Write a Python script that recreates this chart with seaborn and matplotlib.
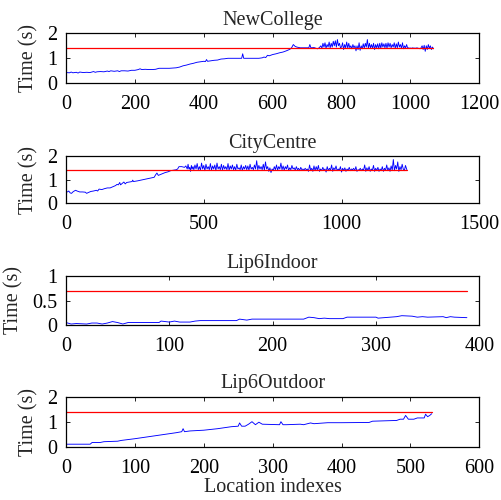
import matplotlib
matplotlib.use("Agg")
import matplotlib.pyplot as plt
import seaborn as sns
import pandas as pd

# ---------------- data ----------------
nc_idx = [0,10,15,20,30,35,40,50,60,70,80,85,90,100,110,120,125,130,140,150,155,160,170,180,190,200,210,215,220,230,240,250,260,270,280,300,310,320,330,340,350,360,370,380,390,400,405,408,411,420,430,440,450,460,470,480,490,500,510,513,516,530,540,550,560,570,575,580,585,590,600,610,620,630,640,650,655,660,665,670,680,690,700,705,708,711,720,730,735] + list(range(740, 1068, 3))
nc_val = [0.43,0.42,0.45,0.42,0.44,0.41,0.45,0.43,0.44,0.43,0.47,0.44,0.46,0.47,0.46,0.49,0.47,0.50,0.48,0.50,0.47,0.50,0.50,0.49,0.52,0.52,0.55,0.58,0.55,0.56,0.55,0.55,0.56,0.60,0.60,0.60,0.61,0.62,0.65,0.70,0.73,0.77,0.80,0.84,0.86,0.88,0.87,0.95,0.88,0.90,0.92,0.93,0.97,0.98,1.00,1.00,1.00,1.00,1.00,1.18,1.00,1.00,1.00,1.00,1.00,1.02,1.05,1.03,1.12,1.10,1.15,1.18,1.22,1.25,1.30,1.36,1.42,1.55,1.48,1.45,1.42,1.42,1.42,1.42,1.55,1.42,1.43,1.38,1.42,
          1.50,1.40,1.60,1.45,1.62,1.40,1.55,1.45,1.65,1.42,1.60,1.45,1.68,1.50,1.70,1.45,1.75,1.50,1.60,1.42,1.45,1.62,1.35,1.55,1.42,1.65,1.40,1.60,1.42,1.50,1.38,1.55,1.42,1.50,1.30,1.50,1.35,1.62,1.32,1.50,1.38,1.58,1.40,1.60,1.45,1.75,1.40,1.60,1.42,1.55,1.40,1.60,1.35,1.55,1.42,1.58,1.38,1.60,1.40,1.62,1.45,1.58,1.42,1.60,1.40,1.62,1.45,1.60,1.42,1.55,1.45,1.62,1.40,1.58,1.42,1.65,1.45,1.55,1.40,1.62,1.38,1.50,1.42,1.55,1.40,1.42,1.40,1.41,1.40,1.42,1.40,1.41,1.40,1.42,1.40,1.40,1.38,1.42,1.50,1.35,1.52,1.28,1.50,1.35,1.55,1.40,1.50,1.35,1.45,1.38]
nc_thr = 1.4

cc_idx = [0,5,10,15,20,25,30,35,40,50,60,70,75,80,90,100,110,115,120,130,140,150,160,170,180,185,190,195,198,205,210,215,220,230,240,242,245,260,280,300,320,325,330,335,350,360,370,380,390,400,405,410,420,430,435,440,443,446,449,452,455,458,461,464] + list(range(468, 1233, 4)) + [1237]
cc_val = [0.50,0.48,0.52,0.44,0.42,0.48,0.52,0.55,0.52,0.48,0.48,0.47,0.42,0.45,0.50,0.52,0.55,0.52,0.60,0.58,0.62,0.65,0.65,0.70,0.75,0.80,0.78,0.88,0.78,0.85,0.90,0.82,0.88,0.90,0.92,0.98,0.92,0.95,1.00,1.05,1.10,1.20,1.28,1.18,1.25,1.30,1.33,1.38,1.40,1.42,1.45,1.55,1.55,1.52,1.58,1.45,1.65,1.45,1.52,1.35,1.60,1.45,1.55,1.42,
          1.62,1.45,1.68,1.42,1.55,1.40,1.70,1.45,1.60,1.38,1.65,1.45,1.55,1.42,1.68,1.40,1.58,1.45,1.62,1.38,
          1.70,1.45,1.55,1.42,1.65,1.40,1.60,1.45,1.55,1.42,1.68,1.40,1.58,1.45,1.62,1.42,1.55,1.40,1.65,1.45,
          1.50,1.42,1.62,1.38,1.55,1.45,1.60,1.42,1.58,1.40,1.65,1.45,1.52,1.42,1.62,1.45,1.80,1.42,1.60,1.45,
          1.55,1.42,1.65,1.40,1.75,1.45,1.55,1.35,1.50,1.30,1.45,1.38,1.55,1.42,1.62,1.40,1.55,1.45,1.70,1.42,
          1.58,1.40,1.55,1.45,1.62,1.38,1.50,1.42,1.60,1.45,1.50,1.40,1.55,1.42,1.48,1.38,1.52,1.42,1.45,1.40,
          1.48,1.42,1.45,1.35,1.62,1.40,1.48,1.35,1.58,1.38,1.55,1.40,1.60,1.35,1.45,1.38,1.52,1.40,1.45,1.32,
          1.55,1.38,1.48,1.40,1.62,1.35,1.50,1.42,1.58,1.38,1.45,1.40,1.55,1.32,1.48,1.38,1.50,1.35,1.45,1.40,
          1.52,1.38,1.45,1.42,1.48,1.38,1.55,1.35,1.42,1.40,1.48,1.38,1.45,1.40,1.62,1.35,1.50,1.38,1.55,1.35,
          1.45,1.40,1.60,1.35,1.48,1.38,1.52,1.35,1.45,1.38,1.55,1.35,1.48,1.40,1.62,1.38,1.50,1.35,1.58,1.40,
          1.85,1.38,1.60,1.45,1.75,1.35,1.55,1.42,1.65,1.45,1.38,1.60,1.42]
cc_thr = 1.4

li_idx = [0,5,10,20,25,30,35,40,45,50,55,60,90,92,100,105,110,120,125,130,165,168,175,180,230,235,240,245,250,255,268,272,300,302,320,325,335,340,345,350,365,368,372,376,388]
li_val = [0.05,0.02,0.03,0.02,0.04,0.04,0.02,0.04,0.07,0.05,0.02,0.05,0.05,0.08,0.06,0.08,0.06,0.06,0.08,0.09,0.09,0.12,0.10,0.12,0.12,0.16,0.15,0.13,0.14,0.13,0.13,0.16,0.16,0.14,0.17,0.19,0.18,0.16,0.17,0.16,0.17,0.15,0.17,0.16,0.15]
li_thr = 0.7

lo_idx = [0,35,38,50,55,75,80,100,120,140,160,168,170,172,180,200,220,240,250,252,255,260,265,270,275,280,285,310,312,315,320,340,345,355,360,380,400,440,445,480,485,490,493,497,505,510,520,522,525,528,531]
lo_val = [0.10,0.10,0.17,0.17,0.20,0.22,0.25,0.32,0.40,0.48,0.56,0.60,0.72,0.60,0.63,0.66,0.72,0.80,0.82,0.95,0.82,0.82,0.90,1.00,0.88,0.98,0.90,0.88,1.00,0.88,0.88,0.90,0.88,0.95,0.92,0.96,0.96,0.97,1.02,1.05,1.10,1.10,1.25,1.10,1.10,1.15,1.15,1.30,1.20,1.25,1.32]
lo_thr = 1.4

titles = ["NewCollege", "CityCentre", "Lip6Indoor", "Lip6Outdoor"]
xticks_list = [[0,200,400,600,800,1000,1200], [0,500,1000,1500], [0,100,200,300,400], [0,100,200,300,400,500,600]]
yticks_list = [[0,1,2], [0,1,2], [0,0.5,1], [0,1,2]]
ytick_labels = [["0","1","2"], ["0","1","2"], ["0","0.5","1"], ["0","1","2"]]

# ---------------- styling ----------------
sns.set_theme(style="ticks")
plt.rcParams['font.family'] = ['Liberation Serif', 'DejaVu Serif']

series = [(nc_idx, nc_val, nc_thr), (cc_idx, cc_val, cc_thr), (li_idx, li_val, li_thr), (lo_idx, lo_val, lo_thr)]

fig = plt.figure(figsize=(5.02, 5.0), dpi=100)
W, H = 502.0, 500.0
boxes = [(66, 33.3, 479.3, 83.3), (66, 156, 479.3, 203.3), (66, 276, 479.3, 325), (66, 396.7, 479.3, 446.7)]
FS = 14.5

for i, ((xs, ys, thr), (l, t, r, b)) in enumerate(zip(series, boxes)):
    n = min(len(xs), len(ys))
    xs, ys = xs[:n], ys[:n]
    ax = fig.add_axes([l / W, 1 - b / H, (r - l) / W, (b - t) / H])
    df = pd.DataFrame({"idx": xs, "t": ys})
    sns.lineplot(data=df, x="idx", y="t", ax=ax, color=(0, 0, 1), linewidth=0.65, estimator=None, sort=False)
    thr_df = pd.DataFrame({"idx": [xs[0], xs[-1]], "t": [thr, thr]})
    sns.lineplot(data=thr_df, x="idx", y="t", ax=ax, color=(1, 0, 0), linewidth=0.9, estimator=None)
    ax.set_xlim(xticks_list[i][0], xticks_list[i][-1])
    ax.set_ylim(yticks_list[i][0], yticks_list[i][-1])
    ax.set_xticks(xticks_list[i])
    ax.set_yticks(yticks_list[i])
    ax.set_yticklabels(ytick_labels[i])
    ax.set_title(titles[i], fontsize=FS, pad=6)
    ax.set_ylabel("Time (s)", fontsize=FS, labelpad=6)
    ax.set_xlabel("Location indexes" if i == 3 else "", fontsize=FS, labelpad=0)
    ax.tick_params(direction="in", top=True, right=True, length=3, width=0.6,
                   labelsize=FS, colors="black")
    ax.tick_params(axis="y", pad=6.5)
    ax.tick_params(axis="x", pad=8.5)
    for s in ax.spines.values():
        s.set_linewidth(0.9)
        s.set_color("black")
        s.set_visible(True)

fig.savefig("out.png", dpi=100, facecolor="white")
